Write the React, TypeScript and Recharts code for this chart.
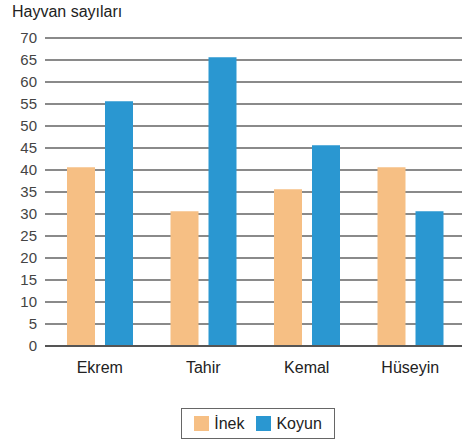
import React from "react";
import {
  BarChart,
  Bar,
  XAxis,
  YAxis,
  CartesianGrid,
} from "recharts";

const names = ["Ekrem", "Tahir", "Kemal", "Hüseyin"];
const inek = [40.6, 30.6, 35.6, 40.6];
const koyun = [55.6, 65.6, 45.6, 30.6];
const yTicks = [0, 5, 10, 15, 20, 25, 30, 35, 40, 45, 50, 55, 60, 65, 70];

const INEK_COLOR = "#f6bf84";
const KOYUN_COLOR = "#2a97d1";
const FONT = "'Liberation Sans', Arial, sans-serif";

const data = names.map((name, i) => ({ name, inek: inek[i], koyun: koyun[i] }));

function LegendBox() {
  const item = (color: string, label: string) => (
    <span style={{ display: "flex", alignItems: "center", gap: 5 }}>
      <span style={{ width: 15, height: 15, background: color, display: "inline-block" }} />
      <span>{label}</span>
    </span>
  );
  return (
    <div
      style={{
        position: "absolute",
        left: 181,
        top: 408,
        width: 152,
        height: 29,
        boxSizing: "content-box",
        display: "flex",
        gap: 12,
        alignItems: "center",
        justifyContent: "center",
        border: "1px solid #666",
        fontFamily: FONT,
        fontSize: 16,
        color: "#222",
        background: "#fff",
      }}
    >
      {item(INEK_COLOR, "İnek")}
      {item(KOYUN_COLOR, "Koyun")}
    </div>
  );
}

export default function App() {
  return (
    <div style={{ position: "absolute", left: 0, top: 0, width: 462, height: 444, background: "#fff" }}>
      <div
        style={{
          position: "absolute",
          left: 12,
          top: 3,
          fontFamily: FONT,
          fontSize: 16,
          color: "#222",
        }}
      >
        Hayvan sayıları
      </div>
      <BarChart
        width={462}
        height={444}
        data={data}
        margin={{ top: 38, right: 0, bottom: 68, left: 0 }}
        barGap={10}
        barSize={28}
      >
        <CartesianGrid vertical={false} stroke="#8a8a8a" strokeWidth={2} />
        <XAxis
          dataKey="name"
          tickLine={false}
          axisLine={{ stroke: "#555", strokeWidth: 2 }}
          tick={{ fill: "#222", fontSize: 16, fontFamily: FONT }}
          tickMargin={10}
          height={30}
          padding={{ left: 3, right: 0 }}
        />
        <YAxis
          domain={[0, 70]}
          ticks={yTicks}
          interval={0}
          width={45}
          axisLine={false}
          tickLine={false}
          tickMargin={2}
          tick={{ fill: "#444", fontSize: 15, fontFamily: FONT }}
        />
        <Bar dataKey="inek" fill={INEK_COLOR} isAnimationActive={false} />
        <Bar dataKey="koyun" fill={KOYUN_COLOR} isAnimationActive={false} />
      </BarChart>
      <LegendBox />
    </div>
  );
}
